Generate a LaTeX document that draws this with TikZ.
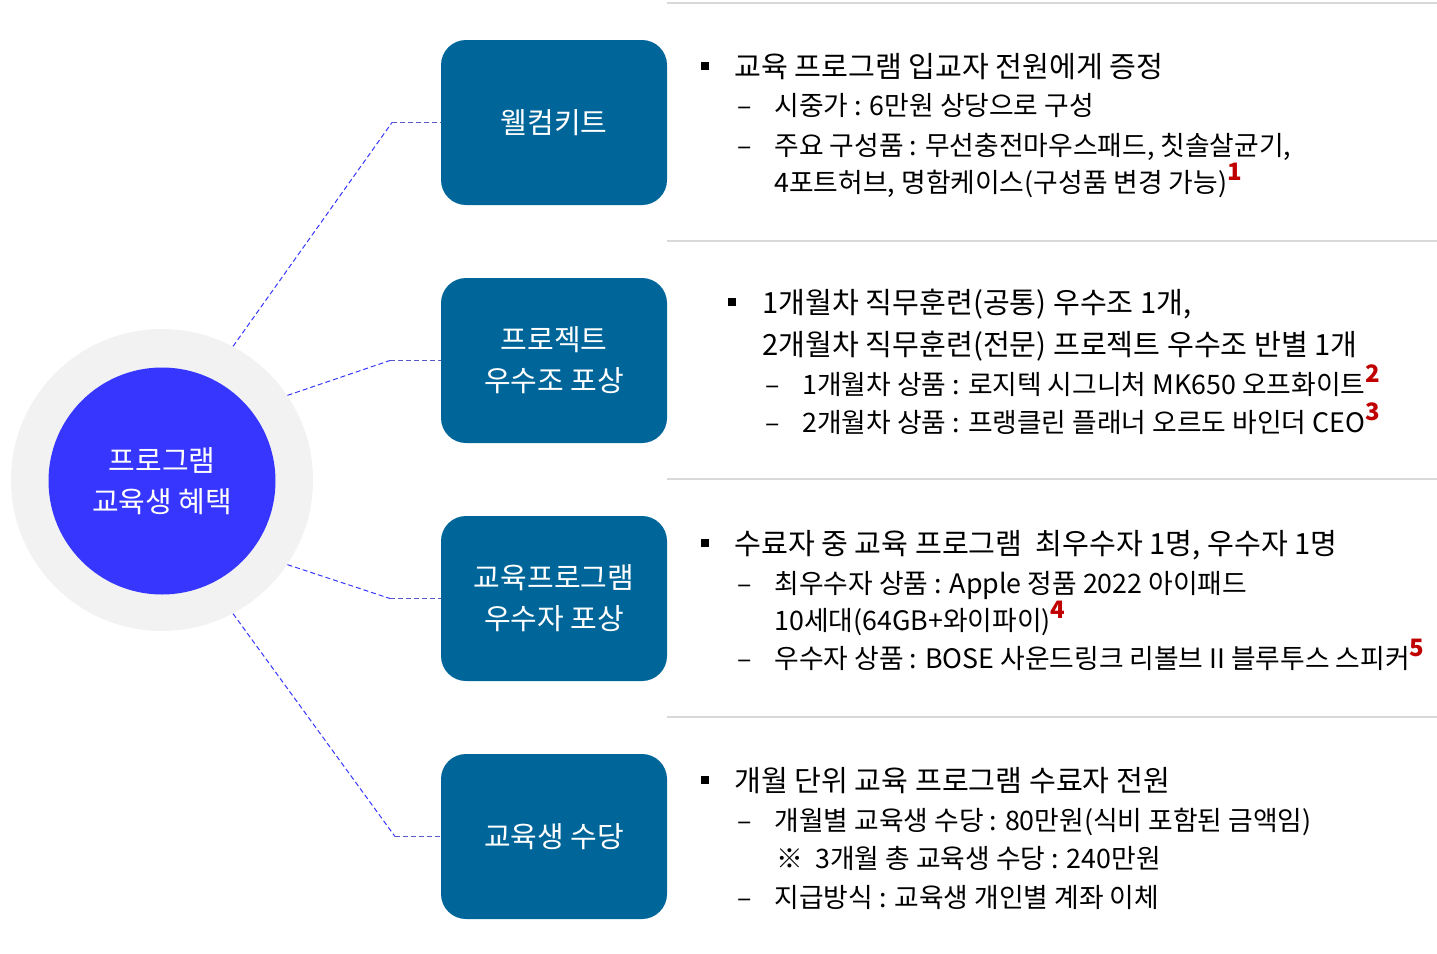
\documentclass[tikz,border=0pt]{standalone}
\usepackage{fontspec}
\setmainfont{Noto Sans CJK KR}
\usetikzlibrary{positioning}
\definecolor{boxblue}{HTML}{006699}
\definecolor{hubblue}{HTML}{3636FF}
\definecolor{ringgray}{HTML}{F2F2F2}
\definecolor{notered}{HTML}{C00000}
\definecolor{rulegray}{HTML}{D9D9D9}
\newcommand{\refmark}[1]{\raisebox{0.42em}{\fontsize{12}{12}\selectfont\bfseries\color{notered}#1}}

\begin{document}
\begin{tikzpicture}[x=0.5pt,y=-0.5pt,
      ring/.style={circle, fill=ringgray, minimum size=151pt, inner sep=0pt},
      hub/.style={
         circle, fill=hubblue, minimum size=113.5pt, inner sep=0pt,
         text=white, align=center, font=\fontsize{14.5}{20.5}\selectfont
      },
      benefit/.style={
         rectangle, rounded corners=12.5pt, fill=boxblue,
         minimum width=113pt, minimum height=82.5pt, inner sep=0pt,
         text=white, align=center, font=\fontsize{14.5}{20.5}\selectfont
      },
      mainline/.style={anchor=base west, inner sep=0pt, font=\fontsize{14.6}{16}\selectfont},
      subline/.style={anchor=base west, inner sep=0pt, font=\fontsize{13.4}{15}\selectfont},
      marker/.style={rectangle, fill=black, minimum size=4pt, inner sep=0pt},
      link/.style={draw=hubblue, line width=0.5pt, dash pattern=on 2.5pt off 1.5pt},
      elbow/.style={draw=hubblue!55!gray, line width=0.6pt, dash pattern=on 2.5pt off 1.5pt},
      divider/.style={draw=rulegray, line width=1pt}
    ]
    \useasboundingbox (0,0) rectangle (1437,954);
    \foreach \y in {3,241,479,717}
       \draw[divider] (667,\y) -- (1437,\y);

    \node (ring) [ring] at (162,480) {};
    \node (hub) [hub] at (162,481) {프로그램\\교육생 혜택};

    \node (b1) [benefit] at (554,122.5) {웰컴키트};
    \node (b2) [benefit] at (554,360.5) {프로젝트\\우수조 포상};
    \node (b3) [benefit] at (554,598.5) {교육프로그램\\우수자 포상};
    \node (b4) [benefit] at (554,836.5) {교육생 수당};

    \coordinate (e1) at (392,122.5);
    \coordinate (e2) at (390,360.5);
    \coordinate (e3) at (390,598.5);
    \coordinate (e4) at (395,836.5);
    \draw[link] (ring.62) -- (e1);
    \draw[link] (ring.34) -- (e2);
    \draw[link] (ring.-34) -- (e3);
    \draw[link] (ring.-62) -- (e4);
    \draw[elbow] (e1) -- (b1.west);
    \draw[elbow] (e2) -- (b2.west);
    \draw[elbow] (e3) -- (b3.west);
    \draw[elbow] (e4) -- (b4.west);

    % welcome kit
    \node (p1) [marker] at (705,66) {};
    \node (l11) [mainline] at (734,77) {교육 프로그램 입교자 전원에게 증정};
    \node (d12) [subline] at (737,115) {–};
    \node (l12) [subline] at (774,115) {시중가 : 6만원 상당으로 구성};
    \node (d13) [subline] at (737,155) {–};
    \node (l13) [subline] at (774,155) {주요 구성품 : 무선충전마우스패드, 칫솔살균기,};
    \node (l14) [subline] at (774,192) {4포트허브, 명함케이스(구성품 변경 가능)\refmark{1}};

    % project award
    \node (p2) [marker] at (732,302) {};
    \node (l21) [mainline] at (762,313) {1개월차 직무훈련(공통) 우수조 1개,};
    \node (l22) [mainline] at (762,355) {2개월차 직무훈련(전문) 프로젝트 우수조 반별 1개};
    \node (d23) [subline] at (765,394) {–};
    \node (l23) [subline] at (802,394) {1개월차 상품 : 로지텍 시그니처 MK650 오프화이트\refmark{2}};
    \node (d24) [subline] at (765,432) {–};
    \node (l24) [subline] at (802,432) {2개월차 상품 : 프랭클린 플래너 오르도 바인더 CEO\refmark{3}};

    % top trainee award
    \node (p3) [marker] at (705,543) {};
    \node (l31) [mainline] at (734,554) {수료자 중 교육 프로그램~ 최우수자 1명, 우수자 1명};
    \node (d32) [subline] at (737,593) {–};
    \node (l32) [subline] at (774,593) {최우수자 상품 : Apple 정품 2022 아이패드};
    \node (l33) [subline] at (774,630) {10세대(64GB+와이파이)\refmark{4}};
    \node (d34) [subline] at (737,668) {–};
    \node (l34) [subline] at (774,668) {우수자 상품 : BOSE 사운드링크 리볼브 II 블루투스 스피커\refmark{5}};

    % allowance
    \node (p4) [marker] at (705,780) {};
    \node (l41) [mainline] at (734,791) {개월 단위 교육 프로그램 수료자 전원};
    \node (d42) [subline] at (737,830) {–};
    \node (l42) [subline] at (774,830) {개월별 교육생 수당 : 80만원(식비 포함된 금액임)};
    \node (l43) [subline] at (776,868) {※~ 3개월 총 교육생 수당 : 240만원};
    \node (d44) [subline] at (737,907) {–};
    \node (l44) [subline] at (774,907) {지급방식 : 교육생 개인별 계좌 이체};
\end{tikzpicture}
\end{document}
